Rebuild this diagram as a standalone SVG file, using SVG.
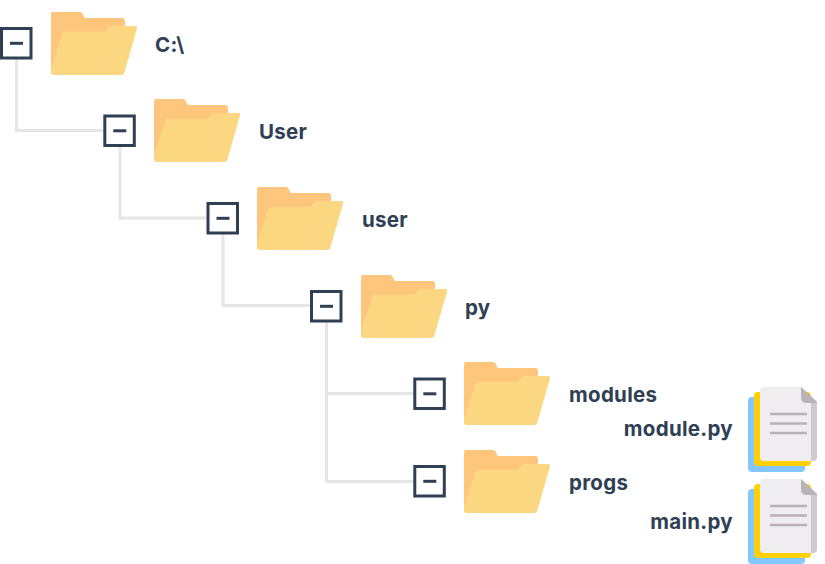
<svg xmlns="http://www.w3.org/2000/svg" width="825" height="564" viewBox="0 0 825 564">
<style>
text{font-family:"Inter","Liberation Sans",sans-serif;font-weight:700;font-size:20.500px;letter-spacing:.3px;fill:#2f4054}
.c{fill:none;stroke:#e6e6e6;stroke-width:3}
.b{fill:#fff;stroke:#2f4054;stroke-width:3}
.m{stroke:#2f4054;stroke-width:3}
.fb{fill:#fec67c}
.ff{fill:#fcd781}
.blue{fill:#82c7ff}
.yel{fill:#ffd008}
.pap{fill:#efedef}
.side{fill:#cdc9cd}
.fold{fill:#b9b3b9}
.ln{stroke:#b9b0b9;stroke-width:2.500}
</style>
<defs>
<g id="folder">
<path class="fb" d="M2 0H29Q31.500 0 32 2.500L33 5Q33.500 6 35 6H71Q74 6 74 9V30L0 62V2Q0 0 2 0Z"/>
<path class="ff" d="M14 19.500H53Q54.500 19.500 55.500 18L57 15.500Q58 14 60 14H84Q86.500 14 86 16.500L73.500 60Q73 63 70 63H3Q0 63 0 60V56L11.500 22Q12.300 19.500 14 19.500Z"/>
</g>
<g id="box"><rect class="b" x="1.500" y="1.500" width="29.500" height="29.500"/><path class="m" d="M10 16.300H23"/></g>
<g id="doc">
<rect class="blue" x="0" y="10" width="57" height="75" rx="4"/>
<rect class="yel" x="6" y="5" width="57" height="74" rx="4"/>
<path class="side" d="M53 0L69 15V70Q69 74 65 74H40V0Z"/>
<path class="pap" d="M16 0H53V10Q53 16 59 16H63V74H16Q12 74 12 70V4Q12 0 16 0Z"/>
<path class="fold" d="M53 0L69 15V16H59Q53 16 53 10Z"/>
<path class="ln" d="M22 27H59M22 36.500H59M22 46H59"/>
</g>
</defs>
<g id="connectors">
<path class="c" d="M16.500 59V130.500H103"/>
<path class="c" d="M120 146V218H206"/>
<path class="c" d="M223 234V305.500H310"/>
<path class="c" d="M326.500 322V481.500H413M326.500 393.500H413"/>
</g>
<g id="node-c"><use href="#box" x="0" y="27"/><use href="#folder" x="51" y="12"/><text x="155" y="51.500">C:\</text></g>
<g id="node-User"><use href="#box" x="103.300" y="114.500"/><use href="#folder" x="154" y="99"/><text x="259" y="139">User</text></g>
<g id="node-user"><use href="#box" x="206.500" y="202"/><use href="#folder" x="257" y="187"/><text x="362" y="226.500">user</text></g>
<g id="node-py"><use href="#box" x="310" y="290"/><use href="#folder" x="361" y="275"/><text x="465" y="314.500">py</text></g>
<g id="node-modules"><use href="#box" x="413.300" y="377.500"/><use href="#folder" x="464" y="362"/><text x="569" y="401.500">modules</text></g>
<g id="node-progs"><use href="#box" x="413.300" y="465"/><use href="#folder" x="464" y="450"/><text x="569" y="489.500">progs</text></g>
<g id="node-module-py"><use href="#doc" x="748" y="387"/><text x="733" y="436" text-anchor="end">module.py</text></g>
<g id="node-main-py"><use href="#doc" x="748" y="479"/><text x="733" y="528.500" text-anchor="end">main.py</text></g>
</svg>
